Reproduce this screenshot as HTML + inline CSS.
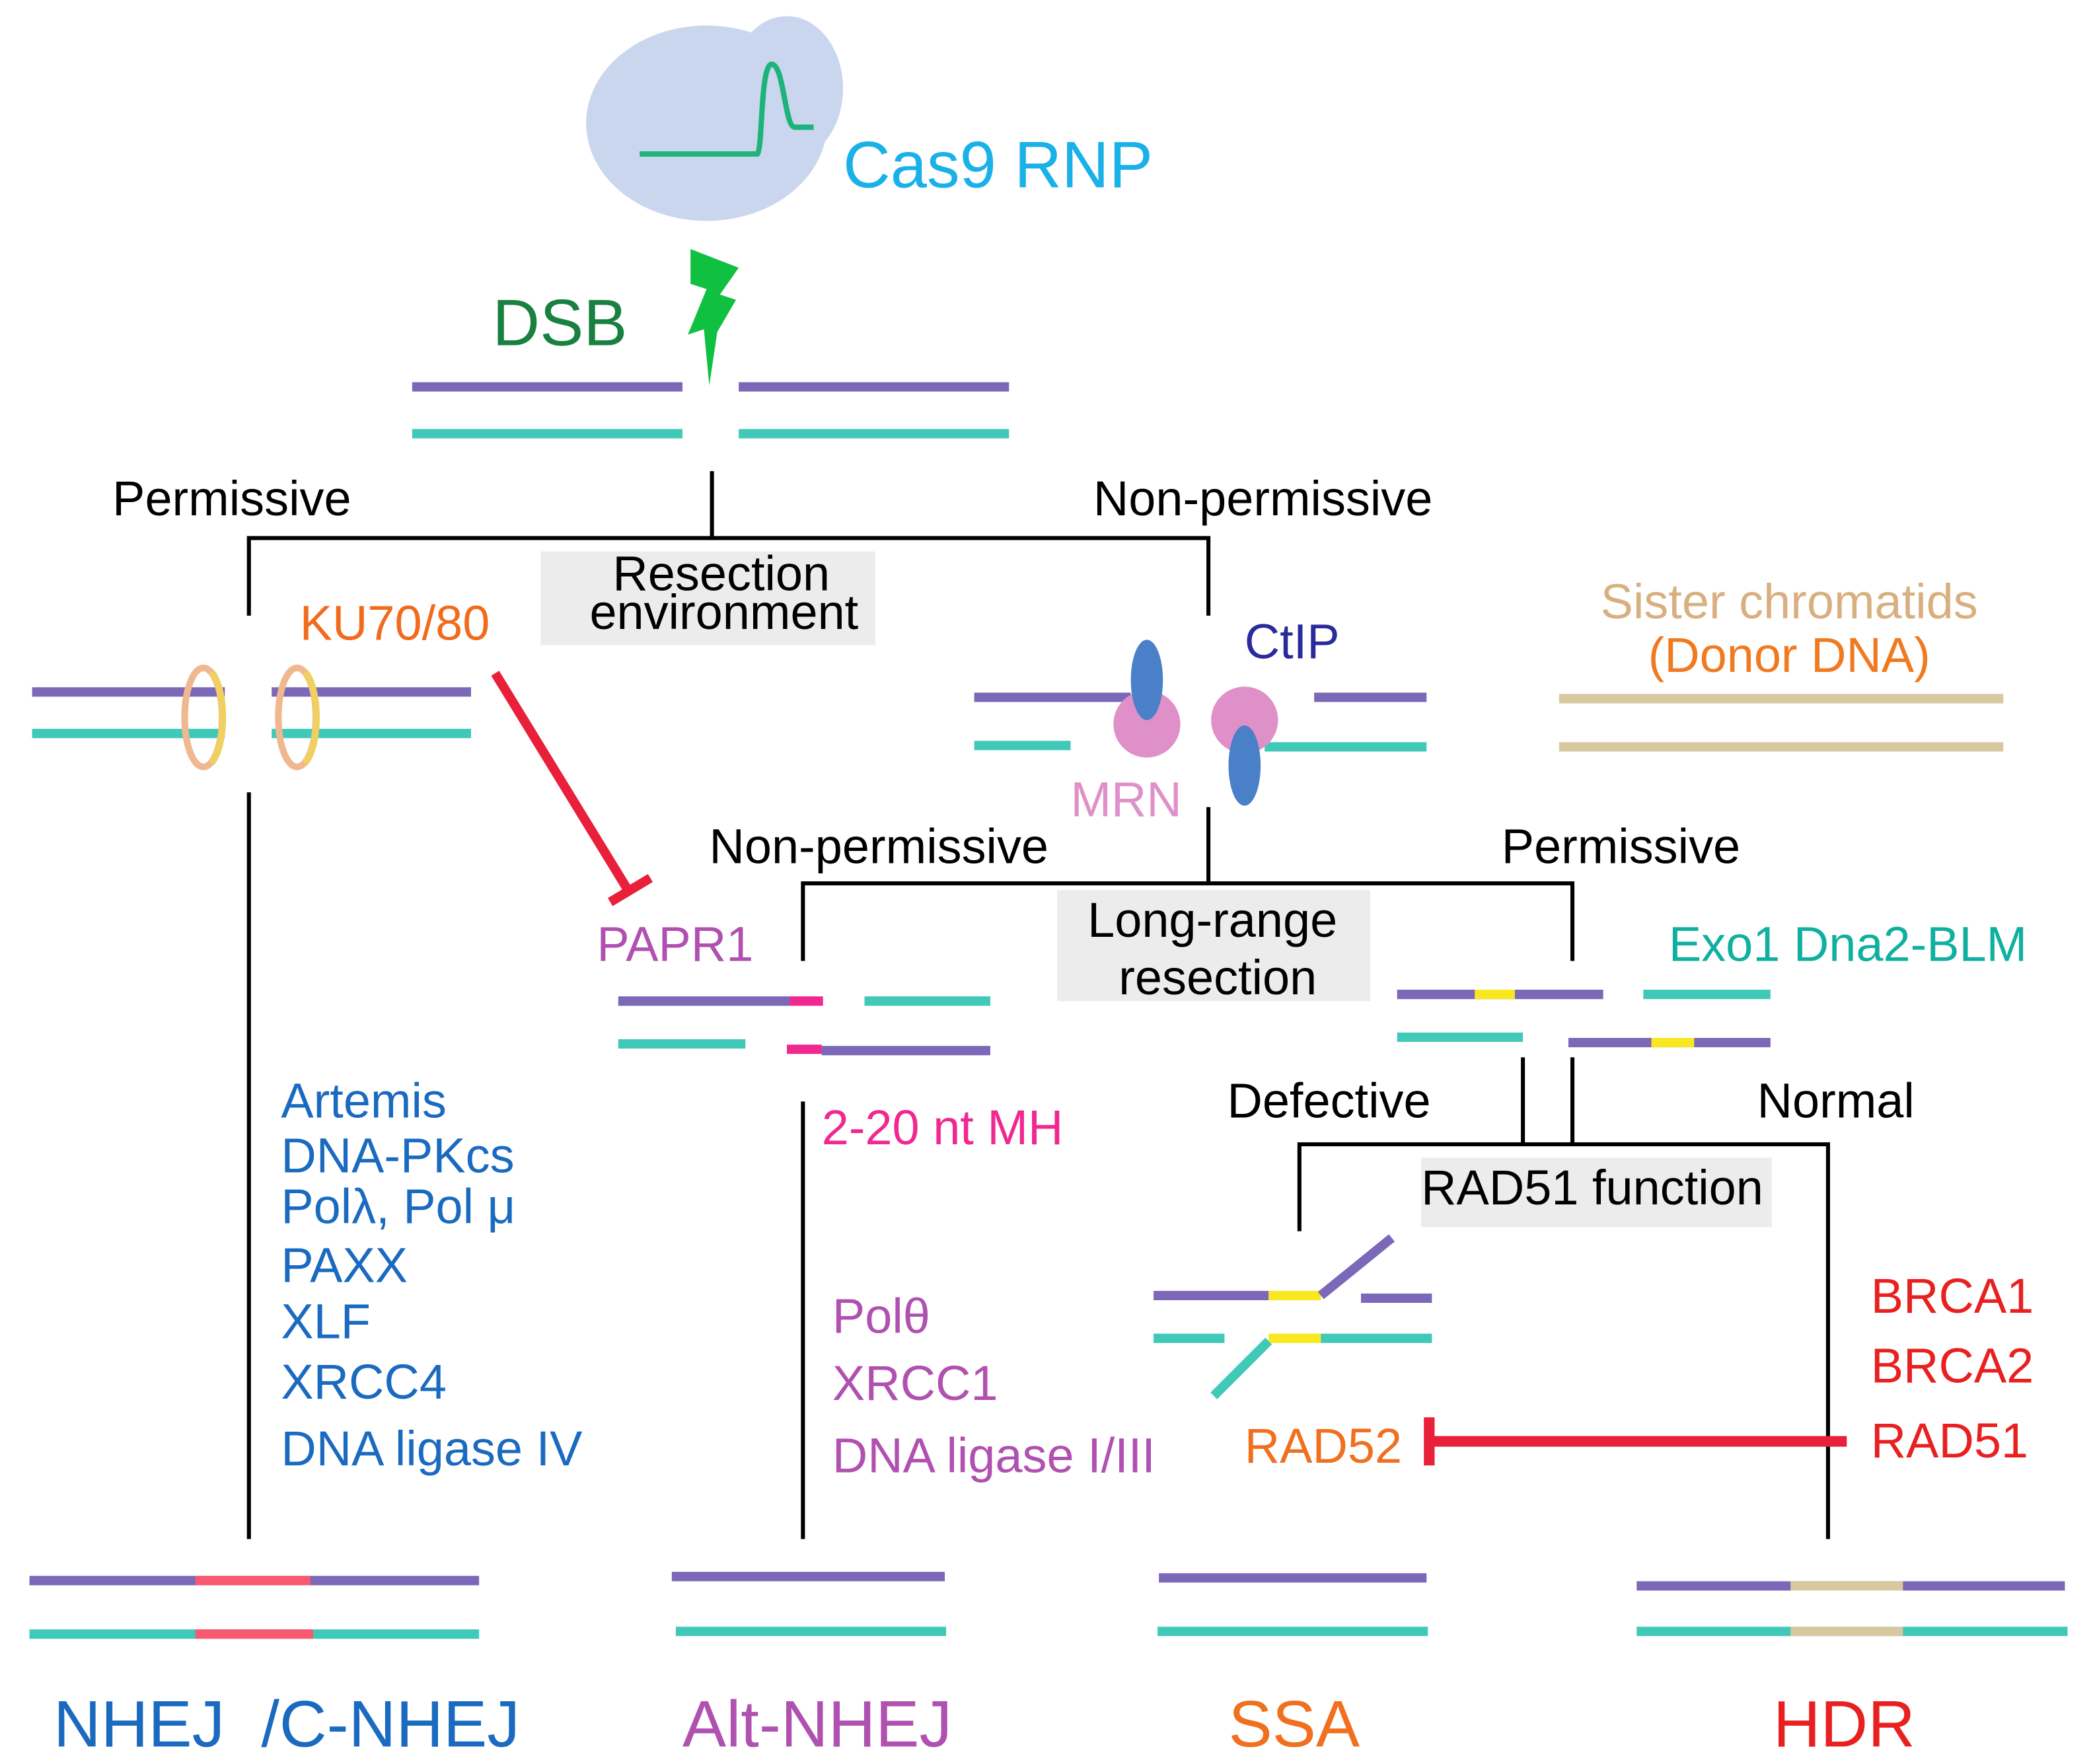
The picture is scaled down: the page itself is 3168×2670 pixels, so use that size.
<!DOCTYPE html>
<html><head><meta charset="utf-8"><style>
html,body{margin:0;padding:0;background:#fff;}
svg{display:block;}
text{font-family:"Liberation Sans",Arial,sans-serif;}
</style></head><body>
<svg width="3168" height="2670" viewBox="0 0 1564 1318" xmlns="http://www.w3.org/2000/svg">
<g stroke-linecap="butt" fill="none">
<ellipse cx="528" cy="92" rx="90" ry="73" fill="#c9d6ee"/>
<ellipse cx="588" cy="66" rx="42" ry="54" fill="#c9d6ee"/>
<path d="M478,115 L566,115 C570,110 568,52 576,48 C586,46 586,95 594,95 L608,95" stroke="#1db37a" stroke-width="4"/>
<polygon points="516,186 552,200 538,220 550,224 536,248 530,288 526,246 514,250 528,216 516,212" fill="#10c040"/>
<line x1="308" y1="289" x2="510" y2="289" stroke="#7b68b8" stroke-width="7"/>
<line x1="552" y1="289" x2="754" y2="289" stroke="#7b68b8" stroke-width="7"/>
<line x1="308" y1="324" x2="510" y2="324" stroke="#40c8b8" stroke-width="7"/>
<line x1="552" y1="324" x2="754" y2="324" stroke="#40c8b8" stroke-width="7"/>
<g stroke="#000" stroke-width="3">
<line x1="532" y1="352" x2="532" y2="402"/>
<polyline points="186,460 186,402 903,402 903,460"/>
<line x1="186" y1="592" x2="186" y2="1150"/>
<line x1="903" y1="603" x2="903" y2="660"/>
<polyline points="600,718 600,660 1175,660 1175,718"/>
<line x1="600" y1="823" x2="600" y2="1150"/>
<line x1="1138" y1="790" x2="1138" y2="855"/>
<line x1="1175" y1="790" x2="1175" y2="855"/>
<polyline points="971,920 971,855 1366,855 1366,1150"/>
</g>
<rect x="404" y="412" width="250" height="70" fill="#ececec"/>
<rect x="790" y="665" width="234" height="83" fill="#ececec"/>
<rect x="1062" y="865" width="262" height="52" fill="#ececec"/>
<line x1="24" y1="517" x2="168" y2="517" stroke="#7b68b8" stroke-width="7"/>
<line x1="203" y1="517" x2="352" y2="517" stroke="#7b68b8" stroke-width="7"/>
<line x1="24" y1="548" x2="168" y2="548" stroke="#40c8b8" stroke-width="7"/>
<line x1="203" y1="548" x2="352" y2="548" stroke="#40c8b8" stroke-width="7"/>
<ellipse cx="152" cy="536" rx="14" ry="37" stroke="#f0b890" stroke-width="5"/>
<path d="M158,502 A14,37 0 0 1 158,570" stroke="#f0d060" stroke-width="5"/>
<ellipse cx="222" cy="536" rx="14" ry="37" stroke="#f0b890" stroke-width="5"/>
<path d="M228,502 A14,37 0 0 1 228,570" stroke="#f0d060" stroke-width="5"/>
<line x1="370" y1="503" x2="468" y2="663" stroke="#e8203a" stroke-width="7"/>
<line x1="456" y1="674" x2="486" y2="656" stroke="#e8203a" stroke-width="7"/>
<line x1="728" y1="521" x2="845" y2="521" stroke="#7b68b8" stroke-width="7"/>
<line x1="728" y1="557" x2="800" y2="557" stroke="#40c8b8" stroke-width="7"/>
<line x1="982" y1="521" x2="1066" y2="521" stroke="#7b68b8" stroke-width="7"/>
<line x1="945" y1="558" x2="1066" y2="558" stroke="#40c8b8" stroke-width="7"/>
<circle cx="857" cy="541" r="25" fill="#e090c8"/>
<circle cx="930" cy="538" r="25" fill="#e090c8"/>
<ellipse cx="857" cy="508" rx="12" ry="30" fill="#4a80c8"/>
<ellipse cx="930" cy="572" rx="12" ry="30" fill="#4a80c8"/>
<line x1="1165" y1="522" x2="1497" y2="522" stroke="#d8c8a0" stroke-width="7"/>
<line x1="1165" y1="558" x2="1497" y2="558" stroke="#d8c8a0" stroke-width="7"/>
<line x1="462" y1="748" x2="590" y2="748" stroke="#7b68b8" stroke-width="7"/>
<line x1="590" y1="748" x2="615" y2="748" stroke="#f02890" stroke-width="7"/>
<line x1="646" y1="748" x2="740" y2="748" stroke="#40c8b8" stroke-width="7"/>
<line x1="462" y1="780" x2="557" y2="780" stroke="#40c8b8" stroke-width="7"/>
<line x1="588" y1="784" x2="614" y2="784" stroke="#f02890" stroke-width="7"/>
<line x1="614" y1="785" x2="740" y2="785" stroke="#7b68b8" stroke-width="7"/>
<line x1="1044" y1="743" x2="1198" y2="743" stroke="#7b68b8" stroke-width="7"/>
<line x1="1102" y1="743" x2="1132" y2="743" stroke="#f8e820" stroke-width="7"/>
<line x1="1228" y1="743" x2="1323" y2="743" stroke="#40c8b8" stroke-width="7"/>
<line x1="1044" y1="775" x2="1138" y2="775" stroke="#40c8b8" stroke-width="7"/>
<line x1="1172" y1="779" x2="1323" y2="779" stroke="#7b68b8" stroke-width="7"/>
<line x1="1234" y1="779" x2="1266" y2="779" stroke="#f8e820" stroke-width="7"/>
<line x1="862" y1="968" x2="948" y2="968" stroke="#7b68b8" stroke-width="7"/>
<line x1="948" y1="968" x2="987" y2="968" stroke="#f8e820" stroke-width="7"/>
<line x1="987" y1="968" x2="1040" y2="925" stroke="#7b68b8" stroke-width="7"/>
<line x1="1017" y1="970" x2="1070" y2="970" stroke="#7b68b8" stroke-width="7"/>
<line x1="862" y1="1000" x2="915" y2="1000" stroke="#40c8b8" stroke-width="7"/>
<line x1="948" y1="1000" x2="987" y2="1000" stroke="#f8e820" stroke-width="7"/>
<line x1="987" y1="1000" x2="1070" y2="1000" stroke="#40c8b8" stroke-width="7"/>
<line x1="948" y1="1002" x2="907" y2="1043" stroke="#40c8b8" stroke-width="7"/>
<line x1="1380" y1="1077" x2="1068" y2="1077" stroke="#e8203a" stroke-width="8"/>
<line x1="1068" y1="1059" x2="1068" y2="1095" stroke="#e8203a" stroke-width="8"/>
<line x1="22" y1="1181" x2="358" y2="1181" stroke="#7b68b8" stroke-width="7"/>
<line x1="146" y1="1181" x2="232" y2="1181" stroke="#f85870" stroke-width="7"/>
<line x1="22" y1="1221" x2="358" y2="1221" stroke="#40c8b8" stroke-width="7"/>
<line x1="146" y1="1221" x2="234" y2="1221" stroke="#f85870" stroke-width="7"/>
<line x1="502" y1="1178" x2="706" y2="1178" stroke="#7b68b8" stroke-width="7"/>
<line x1="505" y1="1219" x2="707" y2="1219" stroke="#40c8b8" stroke-width="7"/>
<line x1="866" y1="1179" x2="1066" y2="1179" stroke="#7b68b8" stroke-width="7"/>
<line x1="865" y1="1219" x2="1067" y2="1219" stroke="#40c8b8" stroke-width="7"/>
<line x1="1223" y1="1185" x2="1543" y2="1185" stroke="#7b68b8" stroke-width="7"/>
<line x1="1338" y1="1185" x2="1422" y2="1185" stroke="#d8c8a0" stroke-width="7"/>
<line x1="1223" y1="1219" x2="1545" y2="1219" stroke="#40c8b8" stroke-width="7"/>
<line x1="1338" y1="1219" x2="1422" y2="1219" stroke="#d8c8a0" stroke-width="7"/>
</g>
<g font-size="36.5">
<text x="630" y="140" font-size="49" fill="#1ab0e8">Cas9 RNP</text>
<text x="368" y="258" font-size="49" fill="#1a8040">DSB</text>
<text x="84" y="385" fill="#000">Permissive</text>
<text x="817" y="385" fill="#000">Non-permissive</text>
<text x="539" y="441" text-anchor="middle" fill="#000">Resection</text>
<text x="541" y="470" text-anchor="middle" fill="#000">environment</text>
<text x="224" y="478" fill="#f26b1d">KU70/80</text>
<text x="930" y="492" fill="#2a2a9a">CtIP</text>
<text x="800" y="610" fill="#e090c8">MRN</text>
<text x="1337" y="462" text-anchor="middle" fill="#d8b080">Sister chromatids</text>
<text x="1337" y="502" text-anchor="middle" fill="#f07a20">(Donor DNA)</text>
<text x="530" y="645" fill="#000">Non-permissive</text>
<text x="1122" y="645" fill="#000">Permissive</text>
<text x="906" y="700" text-anchor="middle" fill="#000">Long-range</text>
<text x="910" y="743" text-anchor="middle" fill="#000">resection</text>
<text x="446" y="718" fill="#b050b0">PAPR1</text>
<text x="1247" y="718" fill="#10b0a0">Exo1 Dna2-BLM</text>
<text x="917" y="835" fill="#000">Defective</text>
<text x="1313" y="835" fill="#000">Normal</text>
<text x="614" y="855" fill="#f02890">2-20 nt MH</text>
<text x="1062" y="900" fill="#000">RAD51 function</text>
<g fill="#1a6ac0">
<text x="210" y="835">Artemis</text>
<text x="210" y="876">DNA-PKcs</text>
<text x="210" y="914">Polλ, Pol μ</text>
<text x="210" y="958">PAXX</text>
<text x="210" y="1000">XLF</text>
<text x="210" y="1045">XRCC4</text>
<text x="210" y="1095">DNA ligase IV</text>
</g>
<g fill="#b050b0">
<text x="622" y="996">Polθ</text>
<text x="622" y="1046">XRCC1</text>
<text x="622" y="1100">DNA ligase I/III</text>
</g>
<g fill="#e82020">
<text x="1398" y="981">BRCA1</text>
<text x="1398" y="1033">BRCA2</text>
<text x="1398" y="1089">RAD51</text>
</g>
<text x="930" y="1093" fill="#f07020">RAD52</text>
<g font-size="49">
<text x="40" y="1305" fill="#1a6ac0" xml:space="preserve">NHEJ  /C-NHEJ</text>
<text x="510" y="1305" fill="#b050b0">Alt-NHEJ</text>
<text x="918" y="1305" fill="#f07020">SSA</text>
<text x="1325" y="1305" fill="#e82020">HDR</text>
</g>
</g>
</svg>
</body></html>
